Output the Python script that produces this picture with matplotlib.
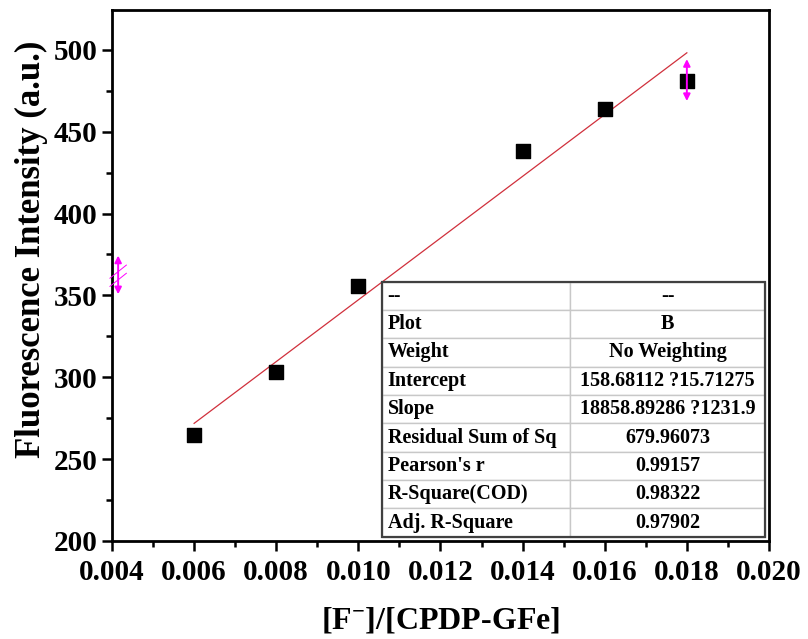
import matplotlib
matplotlib.use("Agg")
import matplotlib.pyplot as plt
from matplotlib.ticker import MultipleLocator
from matplotlib.patches import Rectangle

plt.rcParams['font.family'] = ['Liberation Serif', 'DejaVu Serif']
plt.rcParams['font.weight'] = 'bold'
plt.rcParams['mathtext.fontset'] = 'custom'
plt.rcParams['mathtext.rm'] = 'Liberation Serif:bold'
plt.rcParams['mathtext.it'] = 'Liberation Serif:bold'

# measured points
ratio = [0.006, 0.008, 0.010, 0.014, 0.016, 0.018]
intensity = [265, 303, 356, 438, 464, 481]

# linear fit results
intercept = 158.68112
slope = 18858.89286

fit_rows = [
    ("--", "--"),
    ("Plot", "B"),
    ("Weight", "No Weighting"),
    ("Intercept", "158.68112 ?15.71275"),
    ("Slope", "18858.89286 ?1231.9"),
    ("Residual Sum of Sq", "679.96073"),
    ("Pearson's r", "0.99157"),
    ("R-Square(COD)", "0.98322"),
    ("Adj. R-Square", "0.97902"),
]

fig = plt.figure(figsize=(8.08, 6.39), dpi=100)
ax = fig.add_axes([0.1386, 0.1534, 0.8131, 0.8302])

ax.scatter(ratio, intensity, marker='s', s=90, color='black', zorder=3)

x_fit = [ratio[0], ratio[-1]]
y_fit = [intercept + slope * x for x in x_fit]
ax.plot(x_fit, y_fit, color='#d0303c', lw=0.9, zorder=2)

ax.set_xlim(0.004, 0.020)
ax.set_ylim(200, 524)
ax.xaxis.set_major_locator(MultipleLocator(0.002))
ax.xaxis.set_minor_locator(MultipleLocator(0.001))
ax.yaxis.set_major_locator(MultipleLocator(50))
ax.yaxis.set_minor_locator(MultipleLocator(25))
ax.set_xticklabels([f"{v:.3f}" for v in ax.get_xticks()])

ax.tick_params(which='both', direction='out', width=1.8, top=False, right=False,
               labelsize=21)
ax.tick_params(which='major', length=7)
ax.tick_params(which='minor', length=4.5)
ax.tick_params(axis='x', pad=6)
for s in ax.spines.values():
    s.set_linewidth(2.0)

ax.set_xlabel(r'[F$^{-}$]/[CPDP-GFe]', fontsize=23, fontweight='bold', labelpad=14)
ax.set_ylabel('Fluorescence Intensity (a.u.)', fontsize=25, fontweight='bold')
ax.yaxis.set_label_coords(-0.098, 0.55)

# magenta reader marks
arrow_kw = dict(arrowstyle='<|-|>', color='magenta', lw=1.4, mutation_scale=10)
ax.annotate('', xy=(ratio[-1], intensity[-1] + 15), xytext=(ratio[-1], intensity[-1] - 14),
            arrowprops=arrow_kw, zorder=4)
xm = 0.00415
ax.annotate('', xy=(xm, 376), xytext=(xm, 349), arrowprops=arrow_kw, zorder=4)
for dy in (-2.5, 2.5):
    ax.plot([xm - 0.0002, xm + 0.0002], [358 + dy, 366 + dy], color='magenta', lw=0.7,
            clip_on=False, zorder=4)

# fit parameter table
tbl = ax.table(cellText=[list(r) for r in fit_rows], colWidths=[188, 195],
               bbox=[0.411, 0.008, 0.583, 0.481], zorder=5)
tbl.auto_set_font_size(False)
tbl.set_fontsize(14.5)
for (r, c), cell in tbl.get_celld().items():
    cell.set_edgecolor('#c8c8c8')
    cell.set_linewidth(1.0)
    cell.set_facecolor('white')
    txt = cell.get_text()
    txt.set_fontweight('bold')
    if c == 0:
        cell._loc = 'left'
        txt.set_ha('left')
        cell.PAD = 0.03
    else:
        cell._loc = 'center'
        txt.set_ha('center')
ax.add_patch(Rectangle((0.411, 0.008), 0.583, 0.481, transform=ax.transAxes,
                       fill=False, edgecolor='#404040', lw=1.6, zorder=6))

fig.savefig('out.png', dpi=100)
